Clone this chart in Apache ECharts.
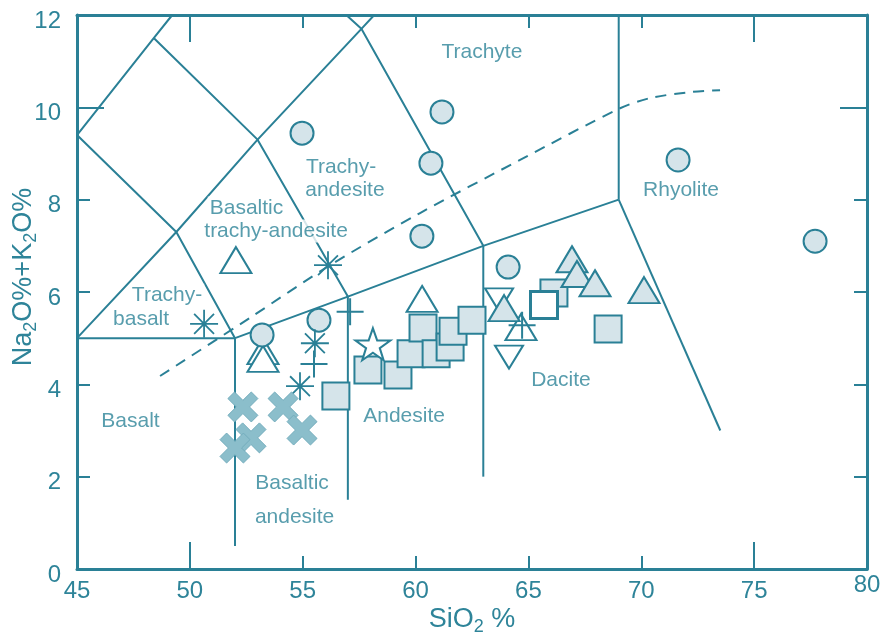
<!DOCTYPE html>
<html>
<head>
<meta charset="utf-8">
<title>TAS diagram</title>
<script src="https://cdn.jsdelivr.net/npm/echarts@6/dist/echarts.min.js"></script>
<style>
  html, body { margin: 0; padding: 0; background: #fff; }
  #chart { width: 882px; height: 635px; }
</style>
</head>
<body>
<div id="chart"></div>
<script>
// Total alkali–silica (TAS) classification with sample compositions.

// Axis ticks
const xTicks = [45, 50, 55, 60, 65, 70, 75, 80];
const yTicks = [0, 2, 4, 6, 8, 10, 12];
const xLongTicks = [50, 75];
const yLongTicks = [10];

// Field boundaries [SiO2, Na2O+K2O]
const boundaries = [
  [[45, 5], [52, 5]],
  [[52, 5], [57, 5.9], [63, 7], [69, 8]],
  [[52, 0.5], [52, 5]],
  [[57, 1.5], [57, 5.9]],
  [[63, 2], [63, 7]],
  [[69, 8], [73.5, 3]],
  [[69, 8], [69, 12]],
  [[45, 5], [49.4, 7.3], [53, 9.3], [57.6, 11.7], [58.17, 12]],
  [[45, 9.4], [49.4, 7.3], [52, 5]],
  [[45, 9.4], [48.4, 11.5], [49.22, 12]],
  [[48.4, 11.5], [53, 9.3], [57, 5.9]],
  [[56.93, 12], [57.6, 11.7], [63, 7]]
];

// Alkaline / subalkaline divide
const alkalineDivide = [
  [48.68, 4.18], [52.66, 5.44], [56.21, 6.58], [60.20, 7.71], [64.63, 8.86],
  [69.06, 9.98], [70.39, 10.20], [72.16, 10.33], [73.49, 10.37]
];

// Field names [name, SiO2, Na2O+K2O]
const fieldNames = [
  ['Trachyte', 62.94, 11.20],
  ['Trachy-', 56.70, 8.71],
  ['andesite', 56.87, 8.21],
  ['Basaltic', 52.51, 7.82],
  ['trachy-andesite', 53.82, 7.32],
  ['Trachy-', 48.99, 5.93],
  ['basalt', 47.84, 5.41],
  ['Basalt', 47.37, 3.21],
  ['Basaltic', 54.53, 1.86],
  ['andesite', 54.64, 1.13],
  ['Andesite', 59.49, 3.31],
  ['Dacite', 66.44, 4.09],
  ['Rhyolite', 71.76, 8.21]
];

// Samples [SiO2, Na2O+K2O]
const circles = [
  [53.20, 5.07], [54.97, 9.44], [61.17, 9.90], [60.68, 8.79], [60.28, 7.21],
  [64.10, 6.54], [55.72, 5.39], [71.63, 8.86], [77.70, 7.10]
];
const filledTriangles = [
  [63.92, 5.65], [66.93, 6.71], [67.15, 6.39], [67.95, 6.19], [70.12, 6.04]
];
const openTriangles = [
  [52.04, 6.69], [53.24, 4.72], [53.24, 4.55], [60.29, 5.85], [64.67, 5.24]
];
const invertedTriangles = [
  [63.70, 5.83], [64.14, 4.59]
];
const filledSquares = [
  [56.47, 3.75], [57.89, 4.31], [59.22, 4.20], [59.80, 4.66], [60.33, 5.22],
  [60.91, 4.66], [61.53, 4.81], [61.66, 5.15], [62.50, 5.39], [66.13, 5.98],
  [68.53, 5.20]
];
const openSquares = [
  [65.69, 5.72]
];
const stars = [
  [58.11, 4.87]
];
const asterisks = [
  [50.63, 5.31], [56.12, 6.58], [55.54, 4.89], [54.88, 3.96]
];
const pluses = [
  [57.10, 5.57], [55.50, 4.44], [64.72, 5.28]
];
const crosses = [
  [52.35, 3.51], [54.13, 3.51], [54.97, 3.01], [52.71, 2.84], [52.00, 2.62]
];

const TEAL = '#2a8096';
const TEXT = '#2e8499';
const LIGHT = '#d5e4ea';
const FONT = '"Liberation Sans", Arial, Helvetica, sans-serif';

const STAR = 'path://M50,0 L61.8,35.1 L98.1,35.1 L68.8,56.8 L79.4,91 L50,70 L20.6,91 L31.2,56.8 L1.9,35.1 L38.2,35.1 Z';
const ASTERISK = 'path://M0,10 L20,10 M10,0 L10,20 M2.9,2.9 L17.1,17.1 M17.1,2.9 L2.9,17.1';
const PLUS = 'path://M0,10 L20,10 M10,0 L10,20';
const XMARK = 'path://M0,2.2 L2.2,0 L5,2.8 L7.8,0 L10,2.2 L7.2,5 L10,7.8 L7.8,10 L5,7.2 L2.2,10 L0,7.8 L2.8,5 Z';

const xMin = xTicks[0], xMax = xTicks[xTicks.length - 1];
const yMin = yTicks[0], yMax = yTicks[yTicks.length - 1];

const tickText = { fontSize: 24, color: TEXT, fontFamily: FONT };
const titleRich = {
  a: { fontSize: 27, color: TEXT, fontFamily: FONT },
  s: { fontSize: 18, color: TEXT, fontFamily: FONT, padding: [15, 0, 0, 0] }
};

function xAxisDef(position, ticks, len, withLine, withLabel) {
  return {
    type: 'value', min: xMin, max: xMax, position: position,
    axisLine: { show: withLine, onZero: false, lineStyle: { color: TEAL, width: 3 } },
    axisTick: { show: true, inside: true, length: len, customValues: ticks,
                lineStyle: { color: TEAL, width: 2 } },
    axisLabel: withLabel
      ? {
          show: true, customValues: ticks, margin: 22, verticalAlign: 'middle',
          formatter: function (v) { return (v === xMax ? '{u|' : '{d|') + v + '}'; },
          rich: {
            d: Object.assign({}, tickText),
            u: Object.assign({ padding: [0, 0, 12, 0] }, tickText)
          }
        }
      : { show: false },
    splitLine: { show: false }
  };
}
function yAxisDef(position, ticks, len, withLine, withLabel) {
  return {
    type: 'value', min: yMin, max: yMax, position: position,
    axisLine: { show: withLine, onZero: false, lineStyle: { color: TEAL, width: 3 } },
    axisTick: { show: true, inside: true, length: len, customValues: ticks,
                lineStyle: { color: TEAL, width: 2 } },
    axisLabel: withLabel
      ? {
          show: true, customValues: ticks, margin: 16,
          formatter: function (v) { return '{d|' + v + '}'; },
          rich: { d: Object.assign({ padding: [12, 0, 0, 0] }, tickText) }
        }
      : { show: false },
    splitLine: { show: false }
  };
}

const xAxes = [
  xAxisDef('bottom', xTicks, 13, true, true),
  xAxisDef('top', xTicks, 13, true, false),
  xAxisDef('bottom', xLongTicks, 27, false, false),
  xAxisDef('top', xLongTicks, 27, false, false)
];
Object.assign(xAxes[0], {
  name: '{a|SiO}{s|2}{a| %}',
  nameLocation: 'middle',
  nameGap: 34,
  nameMoveOverlap: false,
  nameTextStyle: { color: TEXT, fontFamily: FONT, rich: titleRich }
});

const yAxes = [
  yAxisDef('left', yTicks, 13, true, true),
  yAxisDef('right', yTicks, 13, true, false),
  yAxisDef('left', yLongTicks, 27, false, false),
  yAxisDef('right', yLongTicks, 27, false, false)
];
Object.assign(yAxes[0], {
  name: '{a|Na}{s|2}{a|O%+K}{s|2}{a|O%}',
  nameLocation: 'middle',
  nameRotate: 90,
  nameGap: 37,
  nameMoveOverlap: false,
  nameTextStyle: { color: TEXT, fontFamily: FONT, padding: [0, 0, 0, 30], rich: titleRich }
});

const series = [];

boundaries.forEach(function (line) {
  series.push({
    type: 'line', data: line, symbol: 'none', silent: true, z: 2,
    lineStyle: { color: TEAL, width: 2 }
  });
});

series.push({
  type: 'line', data: alkalineDivide, symbol: 'none', silent: true, z: 2,
  smooth: 0.3,
  lineStyle: { color: TEAL, width: 2, type: [11, 8] }
});

series.push({
  type: 'scatter', silent: true, z: 3, symbolSize: 0,
  data: fieldNames.map(function (f) { return { name: f[0], value: [f[1], f[2]] }; }),
  label: {
    show: true, position: 'inside', formatter: '{b}',
    fontSize: 21, color: TEXT, fontFamily: FONT,
    backgroundColor: '#fff', padding: [1, 2]
  }
});

function markers(data, opts) {
  return Object.assign({ type: 'scatter', data: data, silent: true, z: 4 }, opts);
}

series.push(markers(filledSquares, {
  symbol: 'rect', symbolSize: 27,
  itemStyle: { color: LIGHT, borderColor: TEAL, borderWidth: 2, opacity: 1 }
}));
series.push(markers(openSquares, {
  symbol: 'rect', symbolSize: 27,
  itemStyle: { color: '#fff', borderColor: TEAL, borderWidth: 3, opacity: 1 }
}));
series.push(markers(invertedTriangles, {
  symbol: 'triangle', symbolRotate: 180, symbolSize: [28, 23],
  itemStyle: { color: '#fff', borderColor: TEAL, borderWidth: 2, opacity: 1 }
}));
series.push(markers(openTriangles, {
  symbol: 'triangle', symbolSize: [31, 26],
  itemStyle: { color: '#fff', borderColor: TEAL, borderWidth: 2, opacity: 1 }
}));
series.push(markers(filledTriangles, {
  symbol: 'triangle', symbolSize: [31, 26],
  itemStyle: { color: LIGHT, borderColor: TEAL, borderWidth: 2, opacity: 1 }
}));
series.push(markers(circles, {
  symbol: 'circle', symbolSize: 23,
  itemStyle: { color: LIGHT, borderColor: TEAL, borderWidth: 2, opacity: 1 }
}));
series.push(markers(stars, {
  symbol: STAR, symbolSize: [35, 32],
  itemStyle: { color: '#fff', borderColor: TEAL, borderWidth: 2, opacity: 1 }
}));
series.push(markers(asterisks, {
  symbol: ASTERISK, symbolSize: 28,
  itemStyle: { color: 'rgba(0,0,0,0)', borderColor: TEAL, borderWidth: 1.8, opacity: 1 }
}));
series.push(markers(pluses, {
  symbol: PLUS, symbolSize: 27,
  itemStyle: { color: 'rgba(0,0,0,0)', borderColor: TEAL, borderWidth: 2, opacity: 1 }
}));
series.push(markers(crosses, {
  symbol: XMARK, symbolSize: 30,
  itemStyle: { color: '#8bbecb', borderColor: '#74adbd', borderWidth: 1, opacity: 1 }
}));

const chart = echarts.init(document.getElementById('chart'), null, { renderer: 'canvas' });
chart.setOption({
  animation: false,
  backgroundColor: '#fff',
  grid: { left: 77, right: 15, top: 15, bottom: 66, containLabel: false, outerBoundsMode: 'none' },
  xAxis: xAxes,
  yAxis: yAxes,
  series: series
});
</script>
</body>
</html>
